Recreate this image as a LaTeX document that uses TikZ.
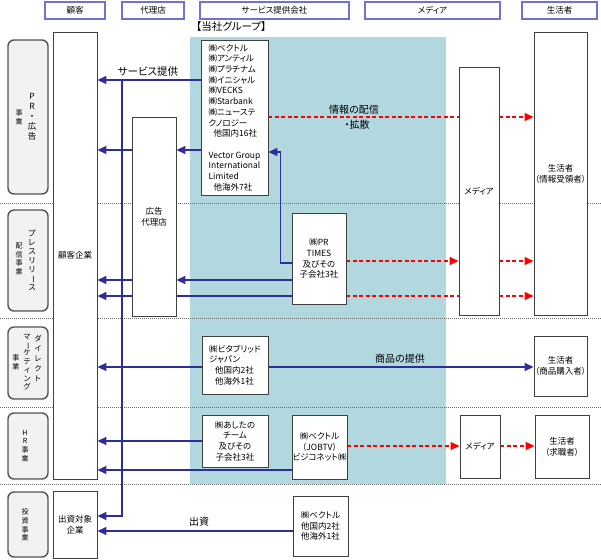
\documentclass[tikz,border=0pt]{standalone}
\usepackage{fontspec}
\setmainfont{Noto Sans CJK JP}[RawFeature=+palt]
\usepackage{graphicx}
\usetikzlibrary{arrows.meta}
\definecolor{hdrc}{RGB}{112,112,214}
\definecolor{navyc}{RGB}{46,46,150}
\definecolor{tealc}{RGB}{176,216,222}
\definecolor{boxc}{RGB}{64,64,64}
\definecolor{catfill}{RGB}{242,242,242}
\definecolor{dotc}{RGB}{110,110,110}
\pgfdeclarelayer{bgteal}
\pgfdeclarelayer{bglines}
\pgfsetlayers{bgteal,bglines,main}
\newcommand{\vchoon}{\rotatebox[origin=c]{-90}{ー}}
\begin{document}
\begin{tikzpicture}[x=1pt,y=-1pt,
  hdr/.style={draw=hdrc, line width=1.8pt, fill=white, inner sep=0pt, minimum height=17pt, font=\fontsize{8.5}{10}\selectfont},
  box/.style={draw=boxc, line width=0.9pt, fill=white, inner sep=0pt, align=center, font=\fontsize{8.5}{10.7}\selectfont},
  cat/.style={draw=boxc!90, line width=1.4pt, fill=catfill, rounded corners=6pt, inner sep=0pt, minimum width=40pt},
  vt/.style={align=center, inner sep=0pt, font=\fontsize{8.5}{10}\selectfont},
  vts/.style={align=center, inner sep=0pt, font=\fontsize{7}{8.8}\selectfont},
  bl/.style={draw=navyc, line width=1.5pt},
  blarr/.style={bl, -{Triangle[length=9pt,width=8pt]}},
  rd/.style={draw=red, line width=1.3pt, dash pattern=on 4pt off 2.5pt},
  rdarr/.style={rd, -{Triangle[length=9pt,width=8pt]}},
  lbl/.style={inner sep=0pt, align=center, font=\fontsize{10}{12}\selectfont},
  dotl/.style={draw=dotc, line width=1pt, dash pattern=on 1pt off 1pt}
]
\useasboundingbox (0,0) rectangle (601,559);

% headers
\node[hdr, minimum width=60pt] (h1) at (75,10.5) {顧客};
\node[hdr, minimum width=62pt] (h2) at (153,10.5) {代理店};
\node[hdr, minimum width=149pt] (h3) at (274.5,10.5) {サービス提供会社};
\node[hdr, minimum width=135pt] (h4) at (432.5,10.5) {メディア};
\node[hdr, minimum width=75pt] (h5) at (559.5,10.5) {生活者};
\node[lbl, anchor=west, font=\fontsize{10.5}{12}\selectfont] (grp) at (196,27) {【当社グループ】};

% category boxes
\node[cat, minimum height=154pt] (c1) at (28,117) {};
\node[vt] (c1a) at (32,117) {P\\R\\・\\広\\告};
\node[vts] (c1b) at (19,117.5) {事\\業};
\node[cat, minimum height=101pt] (c2) at (28,260.5) {};
\node[vt, font=\fontsize{8}{9}\selectfont] (c2a) at (32,260) {プ\\レ\\ス\\リ\\リ\\\vchoon\\ス};
\node[vts] (c2b) at (19,259) {配\\信\\事\\業};
\node[cat, minimum height=72pt] (c3) at (28,363) {};
\node[vts, font=\fontsize{7.5}{10}\selectfont] (c3a) at (38,358) {ダ\\イ\\レ\\ク\\ト};
\node[vts, font=\fontsize{7.5}{8.4}\selectfont] (c3b) at (27,362) {マ\\\vchoon\\ケ\\テ\\ィ\\ン\\グ};
\node[vts] (c3c) at (16,362) {事\\業};
\node[cat, minimum height=66pt] (c4) at (28,446) {};
\node[vts] (c4a) at (25,446) {H\\R\\事\\業};
\node[cat, minimum height=65pt] (c5) at (28,524.5) {};
\node[vts] (c5a) at (25,525) {投\\資\\事\\業};

% main boxes
\node[box, minimum width=44pt, minimum height=447pt] (kokyaku) at (75,255.5) {顧客企業};
\node[box, minimum width=44pt, minimum height=67pt] (shusshi) at (75,524.5) {出資対象\\企業};
\node[box, minimum width=44pt, minimum height=199pt] (dairi) at (154,216.5) {広告\\代理店};
\node[box, minimum width=67pt, minimum height=155pt, align=left] (sv1) at (234.5,117.5)
  {㈱ベクトル\\㈱アンティル\\㈱プラチナム\\㈱イニシャル\\㈱VECKS\\㈱Starbank\\㈱ニューステ\\クノロジー\\\hspace{5pt}他国内16社\\[10.7pt]Vector Group\\International\\Limited\\\hspace{5pt}他海外7社};
\node[box, minimum width=54pt, minimum height=91pt] (prt) at (319,258.5) {㈱PR\\TIMES\\及びその\\子会社3社};
\node[box, minimum width=66pt, minimum height=58pt, align=left] (vita) at (235,365) {㈱ビタブリッド\\ジャパン\\\hspace{6pt}他国内2社\\\hspace{6pt}他海外1社};
\node[box, minimum width=66pt, minimum height=52pt] (ashita) at (235,441) {㈱あしたの\\チーム\\及びその\\子会社3社};
\node[box, minimum width=55pt, minimum height=64pt] (jobtv) at (319.5,447) {㈱ベクトル\\（JOBTV）\\ビジコネット㈱};
\node[box, minimum width=55pt, minimum height=60pt] (inv) at (320.5,526) {㈱ベクトル\\他国内2社\\他海外1社};
\node[box, minimum width=40pt, minimum height=248pt] (media1) at (479,191) {メディア};
\node[box, minimum width=53pt, minimum height=283pt] (cons1) at (560.5,173.5) {生活者\\（情報受領者）};
\node[box, minimum width=53pt, minimum height=60pt] (cons2) at (560.5,366) {生活者\\（商品購入者）};
\node[box, minimum width=40pt, minimum height=63pt] (media2) at (480,446.5) {メディア};
\node[box, minimum width=54pt, minimum height=63pt] (cons3) at (562,446.5) {生活者\\（求職者）};

% labels
\node[lbl, font=\fontsize{10.5}{12}\selectfont] (l1) at (148,72) {サービス提供};
\node[lbl] (l2) at (354,110) {情報の配信};
\node[lbl] (l3) at (357,125) {・拡散};
\node[lbl] (l4) at (400,359) {商品の提供};
\node[lbl] (l5) at (199,522) {出資};

\begin{pgfonlayer}{bgteal}
\fill[tealc] (190,37) rectangle (446,484);
\draw[dotl] (0,203) -- (601,203);
\draw[dotl] (0,318) -- (601,318);
\draw[dotl] (0,407) -- (601,407);
\draw[dotl] (0,484) -- (601,484);
\end{pgfonlayer}

\begin{pgfonlayer}{bglines}
\coordinate (jn) at (122,80);
\draw[blarr] (sv1.west |- 0,80) -- (kokyaku.east |- 0,80);
\draw[blarr] (jn) |- (shusshi.east |- 0,516);
\draw[blarr] (sv1.west |- 0,150) -- (dairi.east |- 0,150);
\draw[blarr] (dairi.west |- 0,150) -- (kokyaku.east |- 0,150);
\draw[blarr] (prt.west |- 0,263) -- ++(-11,0) |- (sv1.east |- 0,152);
\draw[blarr] (prt.west |- 0,280) -- (dairi.east |- 0,280);
\draw[blarr] (dairi.west |- 0,280) -- (kokyaku.east |- 0,280);
\draw[blarr] (prt.west |- 0,296) -- (kokyaku.east |- 0,296);
\draw[blarr] (vita.west |- 0,367) -- (kokyaku.east |- 0,367);
\draw[blarr] (vita.east |- 0,367) -- (cons2.west |- 0,367);
\draw[blarr] (ashita.west) -- (kokyaku.east |- ashita.west);
\draw[blarr] (jobtv.west |- 0,470) -- (kokyaku.east |- 0,470);
\draw[blarr] (inv.west |- 0,531) -- (shusshi.east |- 0,531);
\draw[rd] (sv1.east |- 0,117) -- (media1.west |- 0,117);
\draw[rdarr] (media1.east |- 0,117) -- (cons1.west |- 0,117);
\draw[rdarr] (prt.east |- 0,261) -- (media1.west |- 0,261);
\draw[rdarr] (media1.east |- 0,261) -- (cons1.west |- 0,261);
\draw[rd] (prt.east |- 0,296) -- (media1.west |- 0,296);
\draw[rdarr] (media1.east |- 0,296) -- (cons1.west |- 0,296);
\draw[rdarr] (jobtv.east |- 0,446) -- (media2.west |- 0,446);
\draw[rdarr] (media2.east |- 0,446) -- (cons3.west |- 0,446);
\end{pgfonlayer}
\end{tikzpicture}
\end{document}
